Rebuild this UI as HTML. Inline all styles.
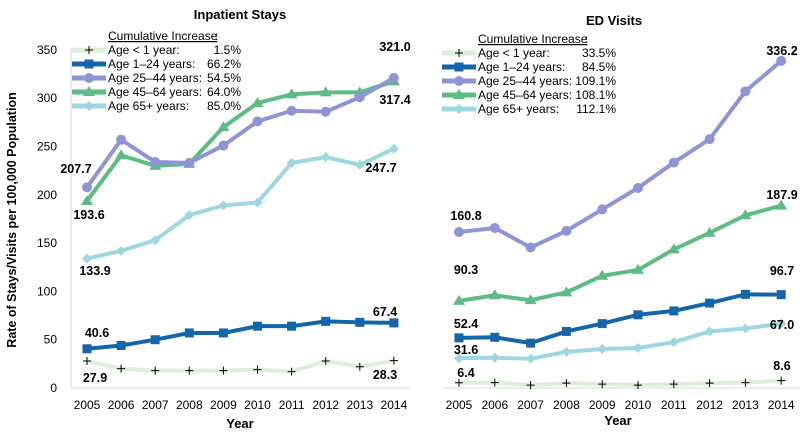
<!DOCTYPE html>
<html><head><meta charset="utf-8"><style>
body{margin:0;background:#fff}
svg text{font-family:"Liberation Sans",Arial,sans-serif}
</style></head><body>
<svg id="s" width="809" height="435" xmlns="http://www.w3.org/2000/svg">
<rect width="809" height="435" fill="#fff"/>
<text x="240" y="19" font-size="13" font-weight="bold" text-anchor="middle">Inpatient Stays</text>
<text x="614" y="25" font-size="13" font-weight="bold" text-anchor="middle">ED Visits</text>
<text transform="translate(16,220) rotate(-90)" font-size="12.5" font-weight="bold" text-anchor="middle">Rate of Stays/Visits per 100,000 Population</text>
<text x="240" y="428" font-size="13" font-weight="bold" text-anchor="middle">Year</text>
<text x="618" y="425" font-size="13" font-weight="bold" text-anchor="middle">Year</text>
<line x1="71" y1="48" x2="71" y2="388" stroke="#d9d9d9"/>
<line x1="71" y1="388" x2="410" y2="388" stroke="#d9d9d9"/>
<line x1="444" y1="388" x2="800" y2="388" stroke="#d9d9d9"/>
<g id="g"></g>
</svg>
<script>
const g=document.getElementById('g');const NS='http://www.w3.org/2000/svg';
function el(t,a,txt){const e=document.createElementNS(NS,t);for(const k in a)e.setAttribute(k,a[k]);if(txt!=null)e.textContent=txt;g.appendChild(e);return e;}
[0,50,100,150,200,250,300,350].forEach(v=>el('text',{x:57,y:388-v*0.966+4,'font-size':12,'text-anchor':'end'},v));
const cols={a:'#dcefd9',b:'#1565a8',c:'#8e94d4',d:'#5dbb84',e:'#9fd6df'};
function chart(x0,dx,y0,k,data,labels){
 for(let i=0;i<10;i++)el('text',{x:x0+i*dx,y:409,'font-size':12,'text-anchor':'middle'},2005+i);
 for(const key of ['a','e','b','d','c']){
  const d=data[key];const pts=d.map((v,i)=>[x0+i*dx,y0-v*k]);
  el('polyline',{points:pts.map(p=>p.join(',')).join(' '),fill:'none',stroke:cols[key],'stroke-width':4});
  pts.forEach(p=>mark(key,p[0],p[1]));
 }
 labels.forEach(l=>el('text',{x:l[0],y:l[1],'font-size':12.5,'font-weight':'bold','text-anchor':'middle'},l[2]));
}
function mark(key,x,y){
 if(key=='a'){el('path',{d:`M${x-4} ${y}H${x+4}M${x} ${y-4}V${y+4}`,stroke:'#000','stroke-width':1});}
 else if(key=='b')el('rect',{x:x-4.5,y:y-4.5,width:9,height:9,fill:cols.b});
 else if(key=='c')el('circle',{cx:x,cy:y,r:5,fill:cols.c});
 else if(key=='d')el('path',{d:`M${x} ${y-6}L${x+6} ${y+4}L${x-6} ${y+4}Z`,fill:cols.d});
 else el('path',{d:`M${x} ${y-5}L${x+5} ${y}L${x} ${y+5}L${x-5} ${y}Z`,fill:cols.e});
}
chart(87,34.1,388,0.966,{
 c:[207.7,257,234,233,251,276,287,286,301,321],
 d:[193.6,241,230,232,270,295,304,306,306,317.4],
 e:[133.9,142,153,179,189,192,233,239,231,247.7],
 b:[40.6,44,50,57,57,64,64,69,68,67.4],
 a:[27.9,20,18,18,18,19,17,28,22,28.3]},
 [[76,173,'207.7'],[89,219,'193.6'],[95,275,'133.9'],[97,337,'40.6'],[95,382,'27.9'],[395,51,'321.0'],[395,104,'317.4'],[381,172,'247.7'],[385,316,'67.4'],[385,379,'28.3']]);
chart(459,35.8,389,0.976,{
 c:[160.8,165,145,162,184,206,232,256,305,336.2],
 d:[90.3,96,91,99,116,122,143,160,178,187.9],
 b:[52.4,53,47,59,67,76,80,88,97,96.7],
 e:[31.6,32,31,38,41,42,48,59,62,67.0],
 a:[6.4,6.5,4,6,5,4,5,6,6.5,8.6]},
 [[466,220,'160.8'],[466,274,'90.3'],[466,328,'52.4'],[466,354,'31.6'],[466,377,'6.4'],[782,55,'336.2'],[782,199,'187.9'],[782,275,'96.7'],[782,329,'67.0'],[782,370,'8.6']]);
function legend(x,y,vals,lbx){
 el('text',{x:x+36,y:y,'font-size':12,'text-decoration':'underline'},'Cumulative Increase');
 el('text',{x:x+36+107,y:y,'font-size':12},':');
 const names=['Age < 1 year:','Age 1–24 years:','Age 25–44 years:','Age 45–64 years:','Age 65+ years:'];
 ['a','b','c','d','e'].forEach((k,i)=>{const yy=y+14*(i+1);
  el('line',{x1:x,y1:yy-4,x2:x+34,y2:yy-4,stroke:cols[k],'stroke-width':5});mark(k,x+17,yy-4);
  el('text',{x:x+36,y:yy,'font-size':12},names[i]);
  el('text',{x:lbx,y:yy,'font-size':12,'text-anchor':'end'},vals[i]);});
}
legend(72,40,['1.5%','66.2%','54.5%','64.0%','85.0%'],241);
legend(442,43,['33.5%','84.5%','109.1%','108.1%','112.1%'],616);
</script>
</body></html>
